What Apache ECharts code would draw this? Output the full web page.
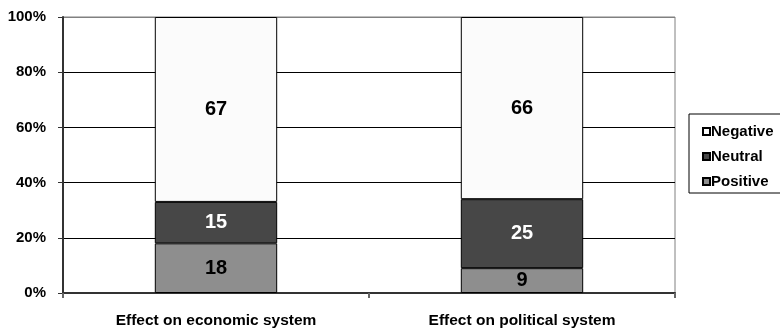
<!DOCTYPE html>
<html>
<head>
<meta charset="utf-8">
<script src="https://cdn.jsdelivr.net/npm/echarts@6/dist/echarts.min.js"></script>
<style>
  html, body { margin: 0; padding: 0; background: #fff; }
  #chart { width: 780px; height: 329px; }
</style>
</head>
<body>
<div id="chart"></div>
<script>
// Share of answers (%) per question, stacked to 100
const categories = ['Effect on economic system', 'Effect on political system'];
const positive = [18, 9];
const neutral = [15, 25];
const negative = [67, 66];
const yTicks = [0, 20, 40, 60, 80, 100];

const FONT = '"Liberation Sans", Arial, sans-serif';

function barSeries(name, data, color, labelColor) {
  return {
    name: name,
    type: 'bar',
    stack: 'total',
    barWidth: '40%',
    data: data,
    itemStyle: { color: color, borderColor: '#000', borderWidth: 1 },
    label: {
      show: true,
      position: 'inside',
      color: labelColor,
      fontFamily: FONT,
      fontWeight: 'bold',
      fontSize: 20
    },
    emphasis: { disabled: true }
  };
}

const chart = echarts.init(document.getElementById('chart'), null, { renderer: 'canvas' });
chart.setOption({
  animation: false,
  backgroundColor: '#fff',
  grid: {
    left: 63, right: 105, top: 17, bottom: 35,
    show: true, borderColor: '#808080', borderWidth: 1, backgroundColor: 'transparent'
  },
  legend: {
    orient: 'vertical',
    left: 689, top: 114,
    data: ['Negative', 'Neutral', 'Positive'],
    icon: 'rect',
    itemWidth: 7, itemHeight: 7, itemGap: 10,
    padding: [10, 30, 4, 13],
    borderColor: '#000', borderWidth: 1,
    textStyle: { fontFamily: FONT, fontWeight: 'bold', fontSize: 15, color: '#000', padding: [0, 0, 0, -4] }
  },
  xAxis: {
    type: 'category',
    data: categories,
    axisLine: { lineStyle: { color: '#333', width: 2 } },
    axisTick: { show: true, alignWithLabel: false, length: 5, lineStyle: { color: '#666', width: 2 } },
    axisLabel: { fontFamily: FONT, fontWeight: 'bold', fontSize: 15.5, color: '#000', margin: 20 }
  },
  yAxis: {
    type: 'value',
    min: 0, max: 100, interval: 20,
    axisLine: { show: true, lineStyle: { color: '#333', width: 2 } },
    axisTick: { show: true, length: 5, lineStyle: { color: '#333', width: 1 } },
    axisLabel: {
      fontFamily: FONT, fontWeight: 'bold', fontSize: 15, color: '#000', margin: 17,
      formatter: v => (yTicks.indexOf(v) >= 0 ? v + '%' : '')
    },
    splitLine: {
      show: true,
      lineStyle: { color: ['#000', '#000', '#000', '#000', '#000', '#808080'], width: 1 }
    }
  },
  series: [
    barSeries('Positive', positive, '#8e8e8e', '#000'),
    barSeries('Neutral', neutral, '#474747', '#fff'),
    barSeries('Negative', negative, '#fbfbfb', '#000')
  ]
});
</script>
</body>
</html>
